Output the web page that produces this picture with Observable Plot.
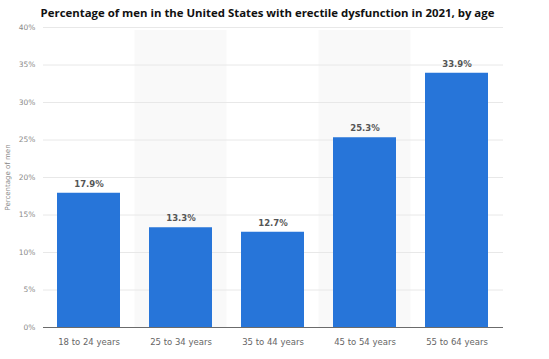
<!DOCTYPE html>
<html>
<head>
<meta charset="utf-8">
<script src="https://cdn.jsdelivr.net/npm/d3@7"></script>
<script src="https://cdn.jsdelivr.net/npm/@observablehq/plot@0.6"></script>
<style>
  html, body { margin: 0; padding: 0; background: #fff; }
  #wrap { width: 549px; height: 359px; position: relative; overflow: hidden; }
  #title { height: 22px; line-height: 22px; font-family: "Open Sans", sans-serif; font-weight: 700; font-size: 11.4px; color: #111; text-align: center; padding-right: 14px; box-sizing: border-box; padding-top: 2px; }
</style>
</head>
<body>
<div id="wrap">
  <div id="title">Percentage of men in the United States with erectile dysfunction in 2021, by age</div>
  <div id="chart"></div>
</div>
<script>
const categories = ["18 to 24 years", "25 to 34 years", "35 to 44 years", "45 to 54 years", "55 to 64 years"];
const values = [17.9, 13.3, 12.7, 25.3, 33.9];
const yTicks = [0, 5, 10, 15, 20, 25, 30, 35, 40];
const shadedCategories = ["25 to 34 years", "45 to 54 years"];

const data = categories.map((c, i) => ({category: c, value: values[i]}));
const shaded = shadedCategories.map(c => ({category: c}));

const paddingInner = 0.315;
const width = 549, marginLeft = 43, marginRight = 46;
const step = (width - marginLeft - marginRight) / categories.length;
const gap = step * paddingInner / 2;

const chart = Plot.plot({
  width: width,
  height: 337,
  marginTop: 5,
  marginBottom: 32,
  marginLeft: marginLeft,
  marginRight: marginRight,
  style: {fontFamily: "DejaVu Sans, sans-serif", background: "#fff"},
  x: {domain: categories, paddingInner: paddingInner, paddingOuter: paddingInner / 2, label: null},
  y: {domain: [0, 40], label: null},
  marks: [
    Plot.barY(shaded, {x: "category", y1: 0, y2: 39.6, fill: "#f9f9f9", insetLeft: -gap, insetRight: -gap}),
    Plot.gridY(yTicks, {stroke: "#e8e8e8", strokeOpacity: 1}),
    Plot.axisY({ticks: yTicks, tickSize: 0, tickPadding: 8, tickFormat: d => d + "%", fontSize: 7.5, fill: "#8a8a8a",
      label: "Percentage of men", labelAnchor: "center", labelOffset: 38, labelArrow: "none"}),
    Plot.axisX({tickSize: 0, tickPadding: 11, fontSize: 8.5, fill: "#666", label: null}),
    Plot.barY(data, {x: "category", y: "value", fill: "#2775d9"}),
    Plot.ruleY([0], {stroke: "#6b6b6b", strokeWidth: 1.2}),
    Plot.text(data, {x: "category", y: "value", text: d => d.value.toFixed(1) + "%", dy: -9, fontSize: 8.5, fontWeight: 600, fill: "#555"})
  ]
});
d3.select(chart).selectAll("[aria-label='y-axis label'] text, [aria-label='y-axis label']").attr("font-size", 7).attr("fill", "#888");
document.getElementById("chart").appendChild(chart);
</script>
</body>
</html>
